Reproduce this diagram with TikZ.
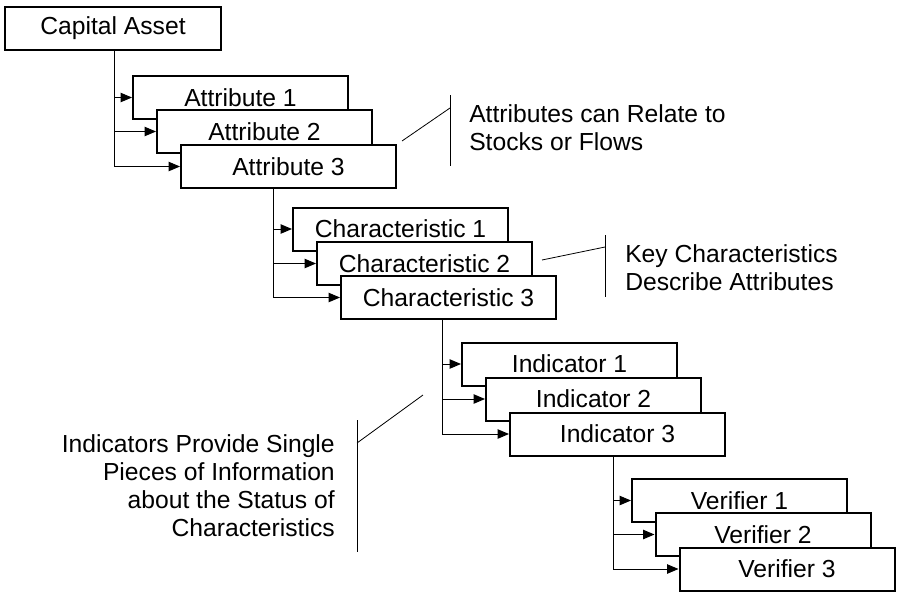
\documentclass[tikz,border=0pt]{standalone}
\usepackage{fontspec}
\setmainfont{Liberation Sans}
\usetikzlibrary{arrows.meta,calc}
\begin{document}
\begin{tikzpicture}[x=0.75pt,y=-0.75pt,
  every node/.style={font=\fontsize{18.5}{21}\selectfont},
  levelbox/.style={draw,line width=1.5pt,fill=white,minimum width=161.25pt,
    minimum height=32.25pt,inner sep=0pt},
  link/.style={line width=0.75pt},
  feed/.style={line width=0.75pt,-{Triangle[length=8.5pt,width=7pt]}},
  callout/.style={line width=0.6pt},
  note/.style={inner sep=0pt,align=left}]
\useasboundingbox (0,0) rectangle (898,597);

% level 0
\node[levelbox,minimum width=162pt] (cap) at (113,28.5) {Capital Asset};

% attributes
\node[levelbox] (a1) at (240.5,97.5) {Attribute 1};
\node[levelbox] (a2) at (264.5,131.5) {Attribute 2};
\node[levelbox] (a3) at (288.5,166.5) {Attribute 3};

% characteristics
\node[levelbox] (c1) at (400.5,229) {Characteristic 1};
\node[levelbox] (c2) at (424.5,263.5) {Characteristic 2};
\node[levelbox] (c3) at (448.5,297.5) {Characteristic 3};

% indicators
\node[levelbox] (i1) at (569.5,364) {Indicator 1};
\node[levelbox] (i2) at (593.5,399) {Indicator 2};
\node[levelbox] (i3) at (617.5,434) {Indicator 3};

% verifiers
\node[levelbox] (v1) at (739.5,500.5) {Verifier 1};
\node[levelbox] (v2) at (763,534.5) {Verifier 2};
\node[levelbox] (v3) at (787,569) {Verifier 3};

% trunk lines hanging below each parent
\coordinate (ta) at ($(cap.south)+(1,0)$);
\coordinate (tc) at ($(a3.south)+(-15.5,0)$);
\coordinate (ti) at ($(c3.south)+(-6.5,0)$);
\coordinate (tv) at ($(i3.south)+(-4.5,0)$);

\draw[link] (ta) -- (ta |- a3.west);
\draw[feed] (ta |- a1.west) -- (a1.west);
\draw[feed] (ta |- a2.west) -- (a2.west);
\draw[feed] (ta |- a3.west) -- (a3.west);

\draw[link] (tc) -- (tc |- c3.west);
\draw[feed] (tc |- c1.west) -- (c1.west);
\draw[feed] (tc |- c2.west) -- (c2.west);
\draw[feed] (tc |- c3.west) -- (c3.west);

\draw[link] (ti) -- (ti |- i3.west);
\draw[feed] (ti |- i1.west) -- (i1.west);
\draw[feed] (ti |- i2.west) -- (i2.west);
\draw[feed] (ti |- i3.west) -- (i3.west);

\draw[link] (tv) -- (tv |- v3.west);
\draw[feed] (tv |- v1.west) -- (v1.west);
\draw[feed] (tv |- v2.west) -- (v2.west);
\draw[feed] (tv |- v3.west) -- (v3.west);

% annotation: attributes
\node[note,anchor=north west] (na) at (469,104) {Attributes can Relate to\\Stocks or Flows};
\coordinate (naTop) at (450,95);
\coordinate (naBot) at (450,166);
\coordinate (naTip) at (402,141);
\draw[callout] (naTop) -- (naBot);
\draw[callout] (naTip) -- (450,108);

% annotation: characteristics
\node[note,anchor=north west] (nc) at (625,244) {Key Characteristics\\Describe Attributes};
\coordinate (ncTop) at (605,235);
\coordinate (ncBot) at (605,297);
\coordinate (ncTip) at (542,260);
\draw[callout] (ncTop) -- (ncBot);
\draw[callout] (ncTip) -- (605,247);

% annotation: indicators
\node[note,align=right,anchor=north east] (ni) at (335,434)
  {Indicators Provide Single\\Pieces of Information\\about the Status of\\Characteristics};
\coordinate (niTop) at (357,420);
\coordinate (niBot) at (357,552);
\coordinate (niTip) at (423,395);
\draw[callout] (niTop) -- (niBot);
\draw[callout] (357,443) -- (niTip);
\end{tikzpicture}
\end{document}
